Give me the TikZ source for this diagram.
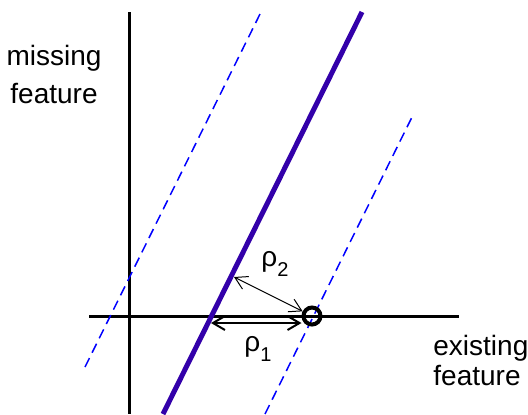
\documentclass[tikz,border=0pt]{standalone}
\usepackage{fontspec}
\setmainfont{Liberation Sans}
\usetikzlibrary{arrows.meta}
\definecolor{fitblue}{RGB}{51,0,170}
\tikzset{
  axis/.style    = {line width=1.5pt, black},
  fitline/.style = {line width=2.5pt, fitblue},
  bandline/.style= {line width=0.75pt, blue, dash pattern=on 5pt off 3pt},
  dist/.style    = {{Straight Barb[length=6pt,width=7pt]}-{Straight Barb[length=6pt,width=7pt]}},
  lbl/.style     = {font=\fontsize{14}{15}\selectfont, inner sep=0pt},
  pt/.style      = {circle, draw=black, line width=2pt, minimum size=8.5pt, inner sep=0pt},
}

\begin{document}
\begin{tikzpicture}[x=0.5pt,y=-0.5pt]
\useasboundingbox (0,0) rectangle (528,414);

%── axes ──────────────────────────────────────────
\coordinate (xl) at (89,316);
\coordinate (xr) at (459,316);
\coordinate (yt) at (129,12);
\coordinate (yb) at (129,414);
\draw[axis] (xl) -- (xr);
\draw[axis] (yt) -- (yb);

%── fitted line and band ──────────────────────────
\coordinate (f0) at (163,414);
\coordinate (f1) at (362,12);
\coordinate (bl0) at (85,367);
\coordinate (bl1) at (261,12);
\coordinate (br0) at (265,414);
\coordinate (br1) at (414,113);
\draw[bandline] (bl0) -- (bl1);
\draw[bandline] (br0) -- (br1);
\draw[fitline] (f0) -- (f1);

%── sample point and distances ────────────────────
\node[pt] (q) at (312,316) {};
\coordinate (r1) at (211,323);
\coordinate (r2) at (234,277);
\draw[dist, line width=1pt] (r1) -- (r1 -| q.west);
\draw[dist, line width=0.5pt] (r2) -- (q);
\node[lbl, anchor=base west] (rho2) at (261,266)
  {ρ\raisebox{-5pt}{\fontsize{10}{10}\selectfont 2}};
\node[lbl, anchor=base west] (rho1) at (244,351)
  {ρ\raisebox{-5pt}{\fontsize{10}{10}\selectfont 1}};

%── axis labels ───────────────────────────────────
\node[lbl, align=center, anchor=north] (ylab) at (54,45)
  {missing\\[4pt]feature};
\node[lbl, align=left, anchor=north west] (xlab) at (433,335)
  {existing\\feature};

\end{tikzpicture}
\end{document}
